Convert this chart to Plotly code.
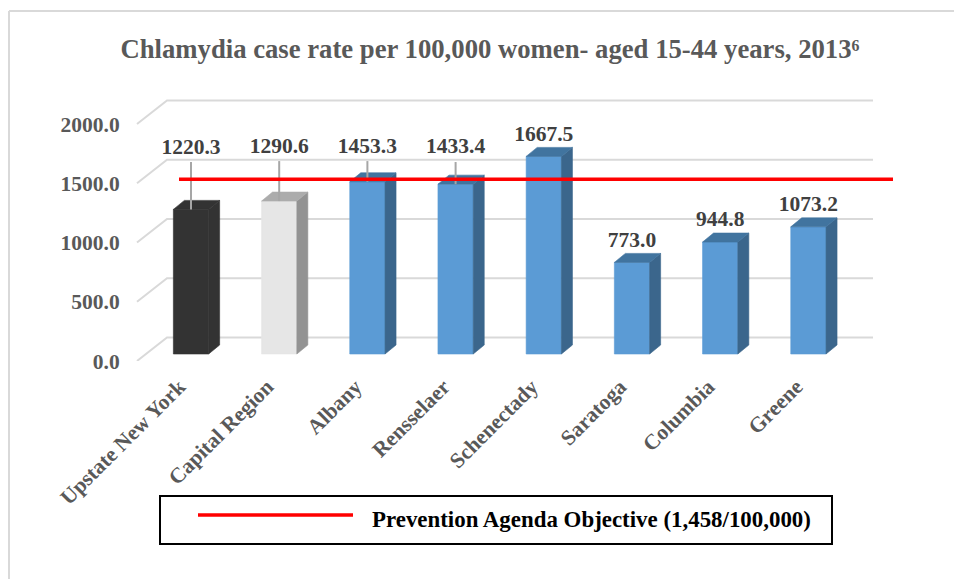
import plotly.graph_objects as go

categories = ["Upstate New York", "Capital Region", "Albany", "Rensselaer",
              "Schenectady", "Saratoga", "Columbia", "Greene"]
rates = [1220.3, 1290.6, 1453.3, 1433.4, 1667.5, 773.0, 944.8, 1073.2]
label_heights = [1737, 1745, 1745, 1745, 1847, 952, 1127, 1252]
leader_tops = [1620, 1628, 1628, 1620, None, None, None, None]
objective = 1458
objective_name = "Prevention Agenda Objective (1,458/100,000)"
y_ticks = [0, 500, 1000, 1500, 2000]
y_tick_labels = ["0.0", "500.0", "1000.0", "1500.0", "2000.0"]
title_text = "Chlamydia case rate per 100,000 women- aged 15-44 years, 2013\u2076"

front_colors = ["#333333", "#e6e6e6"] + ["#5b9bd5"] * 6
side_colors = ["#333333", "#939393"] + ["#3b668c"] * 6
top_colors = ["#333333", "#acacac"] + ["#41749f"] * 6

W, H = 954, 579
PLOT_L, PLOT_R, PLOT_T, PLOT_B = 130, 900, 90, 361
X0_PX, STEP_PX = 191.0, 88.2
PX_PER_UNIT = 0.1185
BAR_W = 0.4
DEPTH_X, DEPTH_Y = 11 / STEP_PX, 9 / PX_PER_UNIT
BAR_BASE_PX = 354
Y2_SHIFT = (PLOT_B - BAR_BASE_PX) / PX_PER_UNIT
WALL_DX, WALL_DY = 30 / STEP_PX, 23.5 / PX_PER_UNIT
GRID_L = (137 - X0_PX) / STEP_PX
GRID_R = (873 - X0_PX) / STEP_PX
OBJ_L, OBJ_R = (179 - X0_PX) / STEP_PX, (893 - X0_PX) / STEP_PX
OBJ_LIFT = 2 / PX_PER_UNIT

idx = list(range(len(categories)))
fig = go.Figure()

# back-wall gridlines on the base axis (drawn beneath the bars)
gx, gy = [], []
for t in y_ticks:
    gx += [GRID_L, GRID_L + WALL_DX, GRID_R, None]
    gy += [t, t + WALL_DY, t + WALL_DY, None]
fig.add_trace(go.Scatter(x=gx, y=gy, mode="lines", line=dict(color="#d9d9d9", width=2),
                         showlegend=False, hoverinfo="skip"))

# bar fronts
fig.add_trace(go.Bar(x=idx, y=rates, width=BAR_W,
                     marker=dict(color=front_colors, line=dict(color=front_colors, width=0.6)),
                     yaxis="y2", showlegend=False))

# bar sides and tops
for i, v in zip(idx, rates):
    r = i + BAR_W / 2
    l = i - BAR_W / 2
    fig.add_trace(go.Scatter(x=[r, r + DEPTH_X, r + DEPTH_X, r, r],
                             y=[0, DEPTH_Y, v + DEPTH_Y, v, 0], yaxis="y2", mode="lines",
                             fill="toself", fillcolor=side_colors[i],
                             line=dict(color=side_colors[i], width=0.6),
                             showlegend=False, hoverinfo="skip"))
    fig.add_trace(go.Scatter(x=[l, r, r + DEPTH_X, l + DEPTH_X, l],
                             y=[v, v, v + DEPTH_Y, v + DEPTH_Y, v], yaxis="y2", mode="lines",
                             fill="toself", fillcolor=top_colors[i],
                             line=dict(color=top_colors[i], width=0.6),
                             showlegend=False, hoverinfo="skip"))

# leader lines
lx, ly = [], []
for i, v, top in zip(idx, rates, leader_tops):
    if top is not None:
        lx += [i, i, None]
        ly += [v, top, None]
fig.add_trace(go.Scatter(x=lx, y=ly, yaxis="y2", mode="lines",
                         line=dict(color="#a6a6a6", width=2), showlegend=False, hoverinfo="skip"))

# objective line
fig.add_trace(go.Scatter(x=[OBJ_L, OBJ_R], y=[objective + OBJ_LIFT] * 2, yaxis="y2", mode="lines",
                         line=dict(color="#ff0000", width=3.5), showlegend=False,
                         name=objective_name))

# data labels
fig.add_trace(go.Scatter(x=idx, y=label_heights, yaxis="y2", mode="text",
                         text=[f"{v:.1f}" for v in rates], textposition="middle center",
                         textfont=dict(family="Liberation Serif", size=21.5, color="#404040",
                                       weight="bold"),
                         showlegend=False, hoverinfo="skip"))

x_range = [(PLOT_L - X0_PX) / STEP_PX, (PLOT_R - X0_PX) / STEP_PX]
y_range = [0, (PLOT_B - PLOT_T) / PX_PER_UNIT]
y_dom = [1 - PLOT_B / H, 1 - PLOT_T / H]

axis_font = dict(family="Liberation Serif", size=21.5, color="#595959", weight="bold")
fig.update_layout(
    width=W, height=H, margin=dict(l=0, r=0, t=0, b=0), autosize=False,
    paper_bgcolor="white", plot_bgcolor="rgba(0,0,0,0)", barmode="overlay",
    title=dict(text=title_text, x=490 / W, xanchor="center", y=1 - 49 / H, yanchor="middle",
               font=dict(family="Liberation Serif", size=26.7, color="#595959", weight="bold")),
    xaxis=dict(domain=[PLOT_L / W, PLOT_R / W], range=x_range, tickmode="array", tickvals=idx,
               ticktext=categories, tickangle=-45, showgrid=False, zeroline=False, showline=False,
               tickfont=dict(family="Liberation Serif", size=21.5, color="#595959", weight="bold"),
               ticks="", automargin=False, ticklabelshift=-12, ticklabelstandoff=8),
    yaxis=dict(domain=y_dom, range=y_range, tickmode="array", tickvals=y_ticks,
               ticktext=y_tick_labels, showgrid=False, zeroline=False, showline=False,
               tickfont=axis_font, ticks="outside", ticklen=5, tickcolor="rgba(0,0,0,0)",
               automargin=False),
    yaxis2=dict(domain=y_dom, overlaying="y", range=[y_range[0] - Y2_SHIFT, y_range[1] - Y2_SHIFT],
                visible=False),
    shapes=[
        dict(type="line", xref="paper", yref="paper", x0=9 / W, x1=9 / W, y0=0, y1=1 - 11 / H,
             line=dict(color="#d9d9d9", width=2)),
        dict(type="line", xref="paper", yref="paper", x0=9 / W, x1=1, y0=1 - 11 / H, y1=1 - 11 / H,
             line=dict(color="#d9d9d9", width=2)),
        dict(type="rect", xref="paper", yref="paper", x0=160 / W, x1=832 / W,
             y0=1 - 544 / H, y1=1 - 496 / H, line=dict(color="black", width=2),
             fillcolor="white"),
        dict(type="line", xref="paper", yref="paper", x0=198 / W, x1=353 / W,
             y0=1 - 515 / H, y1=1 - 515 / H, line=dict(color="#ff0000", width=3.5)),
    ],
    annotations=[dict(text=objective_name, xref="paper", yref="paper", x=370 / W, y=1 - 519 / H,
                      xanchor="left", yanchor="middle", showarrow=False,
                      font=dict(family="Liberation Serif", size=22.9, color="black", weight="bold"))],
)
fig.write_html("out.html", config={"displayModeBar": False},
               post_script="document.body.style.margin='0';document.body.style.overflow='hidden';")
